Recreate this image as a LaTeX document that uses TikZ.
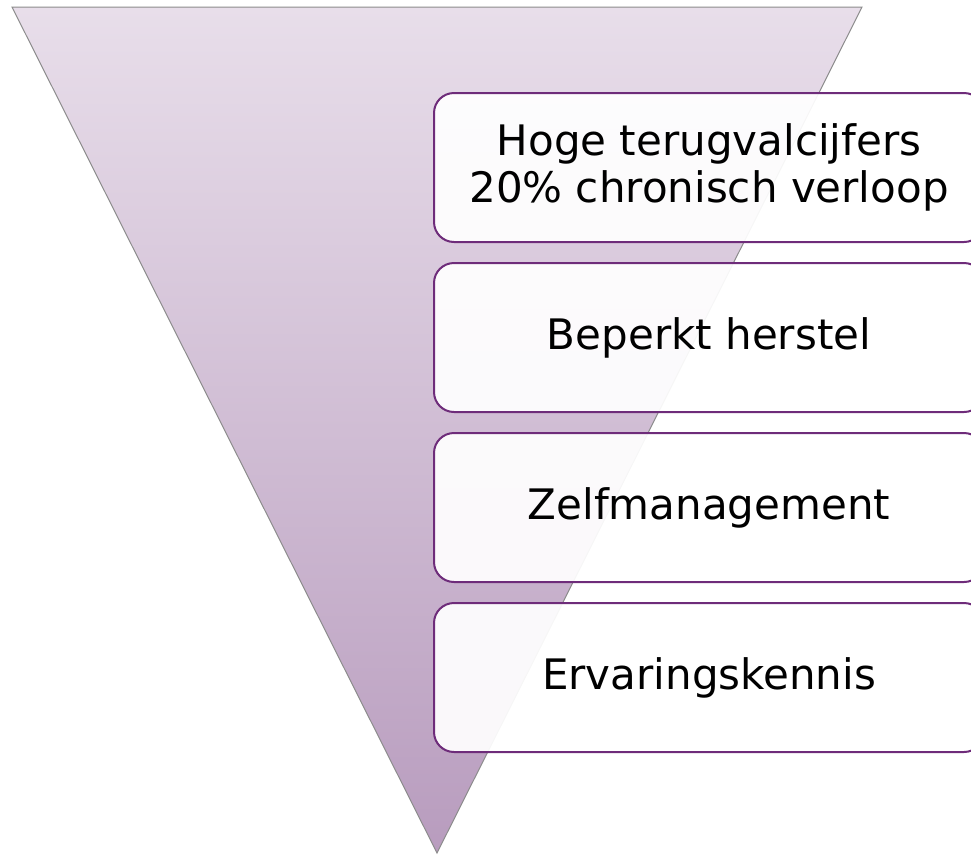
\documentclass[tikz,border=0pt]{standalone}
\usepackage{fontspec}
\setmainfont{DejaVu Sans}
\usetikzlibrary{positioning}

\definecolor{funneltop}{RGB}{232,222,234}
\definecolor{funnelbottom}{RGB}{184,156,190}
\definecolor{stageline}{RGB}{110,44,122}

\tikzset{
    funnel/.style={top color=funneltop, bottom color=funnelbottom, draw=gray!90, line width=1pt},
    stage box/.style={rectangle, rounded corners=20pt, draw=stageline, line width=2pt,
        fill=white, fill opacity=0.93, text opacity=1,
        minimum width=550pt, minimum height=149pt, align=center,
        font=\fontsize{42}{47}\selectfont},
    stage gap/.style={below=19pt of #1}
    }

\begin{document}
\begin{tikzpicture}[x=1pt,y=-1pt]
                \useasboundingbox (0,0) rectangle (971,855);
                \clip (0,0) rectangle (971,855);
                \shade[funnel] (12,7) -- (862,7) -- (437,853) -- cycle;
                \node(b1)[stage box] at (709,167.5){Hoge terugvalcijfers\\20\% chronisch verloop};
                \node(b2)[stage box, stage gap=b1]{Beperkt herstel};
                \node(b3)[stage box, stage gap=b2]{Zelfmanagement};
                \node(b4)[stage box, stage gap=b3]{Ervaringskennis};
            \end{tikzpicture}
\end{document}
